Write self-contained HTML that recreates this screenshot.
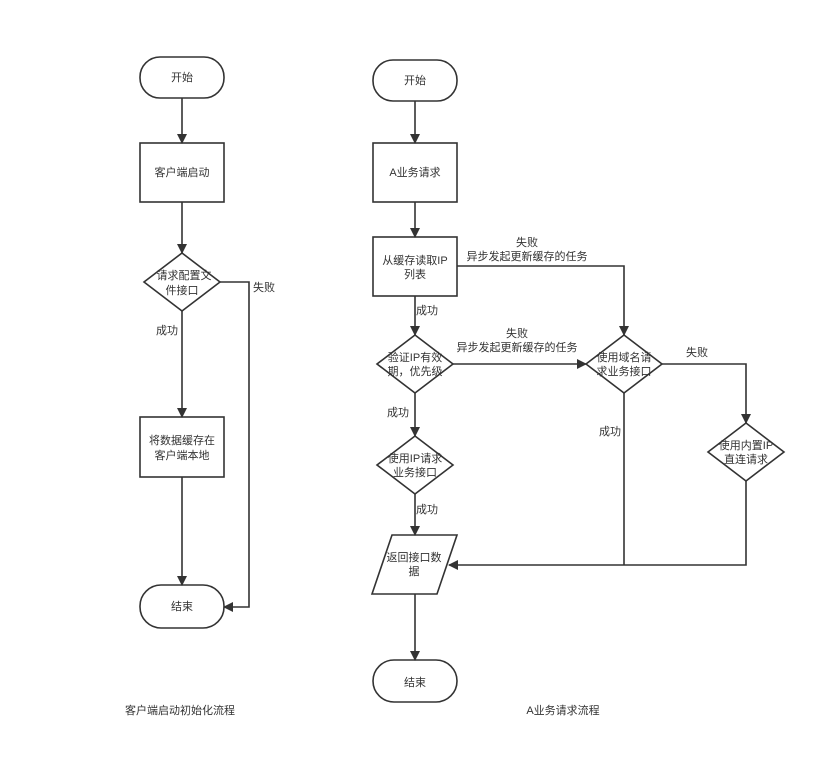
<!DOCTYPE html>
<html><head><meta charset="utf-8"><style>
html,body{margin:0;padding:0;background:#fff;}
svg{display:block;}
text{font-family:"Liberation Sans","Noto Sans CJK SC",sans-serif;font-size:11px;fill:#333;}
</style></head><body>
<svg width="836" height="778" viewBox="0 0 836 778" xmlns="http://www.w3.org/2000/svg">
<defs><marker id="a" markerWidth="10" markerHeight="10" refX="9" refY="5" orient="auto" markerUnits="userSpaceOnUse"><path d="M0,0 L10,5 L0,10 Z" fill="#333"/></marker></defs>
<g fill="#fff" stroke="#333" stroke-width="1.6">
<!-- left -->
<rect x="140" y="57" width="84" height="41" rx="20"/>
<rect x="140" y="143" width="84" height="59"/>
<path d="M182,253 L220,282 L182,311 L144,282 Z"/>
<rect x="140" y="417" width="84" height="60"/>
<rect x="140" y="585" width="84" height="43" rx="21"/>
<!-- right -->
<rect x="373" y="60" width="84" height="41" rx="20"/>
<rect x="373" y="143" width="84" height="59"/>
<rect x="373" y="237" width="84" height="59"/>
<path d="M415,335 L453,364 L415,393 L377,364 Z"/>
<path d="M415,436 L453,465 L415,494 L377,465 Z"/>
<path d="M392,535 L457,535 L437,594 L372,594 Z"/>
<rect x="373" y="660" width="84" height="42" rx="21"/>
<path d="M624,335 L662,364 L624,393 L586,364 Z"/>
<path d="M746,423 L784,452 L746,481 L708,452 Z"/>
</g>
<g fill="none" stroke="#333" stroke-width="1.6">
<line x1="182" y1="98" x2="182" y2="143" marker-end="url(#a)"/>
<line x1="182" y1="202" x2="182" y2="253" marker-end="url(#a)"/>
<line x1="182" y1="311" x2="182" y2="417" marker-end="url(#a)"/>
<line x1="182" y1="477" x2="182" y2="585" marker-end="url(#a)"/>
<polyline points="220,282 249,282 249,607 224,607" marker-end="url(#a)"/>
<line x1="415" y1="101" x2="415" y2="143" marker-end="url(#a)"/>
<line x1="415" y1="202" x2="415" y2="237" marker-end="url(#a)"/>
<line x1="415" y1="296" x2="415" y2="335" marker-end="url(#a)"/>
<line x1="415" y1="393" x2="415" y2="436" marker-end="url(#a)"/>
<line x1="415" y1="494" x2="415" y2="535" marker-end="url(#a)"/>
<line x1="415" y1="594" x2="415" y2="660" marker-end="url(#a)"/>
<polyline points="457,266 624,266 624,335" marker-end="url(#a)"/>
<line x1="453" y1="364" x2="586" y2="364" marker-end="url(#a)"/>
<polyline points="662,364 746,364 746,423" marker-end="url(#a)"/>
<polyline points="624,393 624,565"/>
<polyline points="746,481 746,565 449,565" marker-end="url(#a)"/>
</g>
<g text-anchor="middle">
<text x="182" y="81">开始</text>
<text x="182" y="176">客户端启动</text>
<text x="184" y="279">请求配置文</text>
<text x="182" y="294">件接口</text>
<text x="182" y="444">将数据缓存在</text>
<text x="182" y="459">客户端本地</text>
<text x="182" y="610">结束</text>
<text x="415" y="84">开始</text>
<text x="415" y="176">A业务请求</text>
<text x="415" y="264">从缓存读取IP</text>
<text x="415" y="278">列表</text>
<text x="415" y="361">验证IP有效</text>
<text x="415" y="375">期，优先级</text>
<text x="415" y="462">使用IP请求</text>
<text x="415" y="476">业务接口</text>
<text x="414" y="561">返回接口数</text>
<text x="414" y="575">据</text>
<text x="415" y="686">结束</text>
<text x="624" y="361">使用域名请</text>
<text x="624" y="375">求业务接口</text>
<text x="746" y="449">使用内置IP</text>
<text x="746" y="463">直连请求</text>
<text x="527" y="246">失败</text>
<text x="527" y="260">异步发起更新缓存的任务</text>
<text x="517" y="337">失败</text>
<text x="517" y="351">异步发起更新缓存的任务</text>
<text x="180" y="714">客户端启动初始化流程</text>
<text x="563" y="714">A业务请求流程</text>
</g>
<text x="156" y="334">成功</text>
<text x="253" y="291">失败</text>
<text x="416" y="314">成功</text>
<text x="387" y="416">成功</text>
<text x="416" y="513">成功</text>
<text x="599" y="435">成功</text>
<text x="686" y="356">失败</text>
</svg>
</body></html>
